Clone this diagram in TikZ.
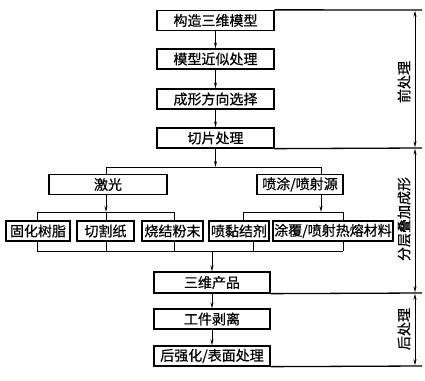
\documentclass[tikz,border=0pt]{standalone}
\usepackage{fontspec}
\setmainfont[FakeBold=0.6]{Noto Sans CJK SC}
\usetikzlibrary{arrows.meta}
\begin{document}
\begin{tikzpicture}[x=1pt,y=-1pt,
  box/.style={draw,line width=1.3pt,minimum height=20pt,inner sep=0pt,font=\fontsize{14}{15}\selectfont},
  ln/.style={line width=1pt},
  arr/.style={ln,-{Stealth[length=6pt,width=3pt]}},
  dim/.style={ln,{Stealth[length=6pt,width=3pt]}-{Stealth[length=6pt,width=3pt]}},
  side/.style={rotate=90,font=\fontsize{14}{15}\selectfont}]
\useasboundingbox (0,0) rectangle (425,380);
% top chain
\node[box,minimum width=117pt] (b1) at (215.5,20.5) {构造三维模型};
\node[box,minimum width=117pt] (b2) at (215.5,59) {模型近似处理};
\node[box,minimum width=117pt] (b3) at (215.5,99) {成形方向选择};
\node[box,minimum width=117pt] (b4) at (215.5,138) {切片处理};
\draw[arr] (b1) -- (b2);
\draw[arr] (b2) -- (b3);
\draw[arr] (b3) -- (b4);
% branch 1
\node[box,minimum width=118pt] (L) at (108,184.5) {激光};
\node[box,minimum width=86pt] (R) at (300,184.5) {喷涂/喷射源};
\coordinate (j1) at (215.5,167);
\coordinate (j1l) at (106,167);
\coordinate (j1r) at (321,167);
\draw[arr] (b4) -- (j1);
\draw[ln] (j1l) -- (j1r);
\draw[ln] (j1l) -- (j1l |- L.north);
\draw[ln] (j1r) -- (j1r |- R.north);
% row
\node[box,minimum width=64pt] (c1) at (38,231) {固化树脂};
\node[box,minimum width=57pt] (c2) at (105.5,231) {切割纸};
\node[box,minimum width=61pt] (c3) at (172.5,231) {烧结粉末};
\node[box,minimum width=60pt] (c4) at (239,231) {喷黏结剂};
\node[box,minimum width=120pt] (c5) at (333,231) {涂覆/喷射热熔材料};
\coordinate (j2) at (106,212);
\coordinate (j2a) at (37,212);
\coordinate (j2c) at (174,212);
\draw[arr] (j1l |- L.south) -- (j2);
\draw[ln] (j2a) -- (j2c);
\draw[ln] (j2a) -- (j2a |- c1.north);
\draw[ln] (j2) -- (j2 |- c2.north);
\draw[ln] (j2c) -- (j2c |- c3.north);
\coordinate (j3) at (321,212);
\coordinate (j3a) at (243,212);
\coordinate (j3b) at (343,212);
\draw[arr] (j1r |- R.south) -- (j3);
\draw[ln] (j3a) -- (j3b);
\draw[ln] (j3a) -- (j3a |- c4.north);
\draw[ln] (j3b) -- (j3b |- c5.north);
% bottom bar
\coordinate (k1) at (37,251);
\coordinate (k5) at (343,251);
\coordinate (k0) at (212,251);
\draw[ln] (k1) -- (k5);
\draw[ln] (k1) -- (k1 |- c1.south);
\draw[ln] (106,251) -- (106,241);
\draw[ln] (174,251) -- (174,241);
\draw[ln] (253,251) -- (253,241);
\draw[ln] (k5) -- (k5 |- c5.south);
% bottom chain
\node[box,minimum width=116pt,minimum height=21pt] (d1) at (212,282.5) {三维产品};
\node[box,minimum width=116pt] (d2) at (212,319) {工件剥离};
\node[box,minimum width=116pt] (d3) at (212,356) {后强化/表面处理};
\draw[arr] (k0) -- (d1);
\draw[arr] (d1) -- (d2);
\draw[arr] (d2) -- (d3);
% side annotations
\coordinate (e0) at (422,10);
\coordinate (e1) at (422,148);
\coordinate (e2) at (422,293);
\coordinate (e3) at (422,366);
\draw[line width=1.3pt] (b1.north east) -- (e0);
\draw[line width=1.3pt] (b4.south east) -- (e1);
\draw[line width=1.3pt] (d1.south east) -- (e2);
\draw[line width=1.3pt] (d3.south east) -- (e3);
\draw[dim] (415,10.7) -- (415,147.3);
\draw[dim] (415,148.7) -- (415,292.3);
\draw[dim] (415,293.7) -- (415,365.3);
\node[side] (s1) at (404,82) {前处理};
\node[side] (s2) at (404,219) {分层叠加成形};
\node[side] (s3) at (404,329) {后处理};
\end{tikzpicture}
\end{document}
